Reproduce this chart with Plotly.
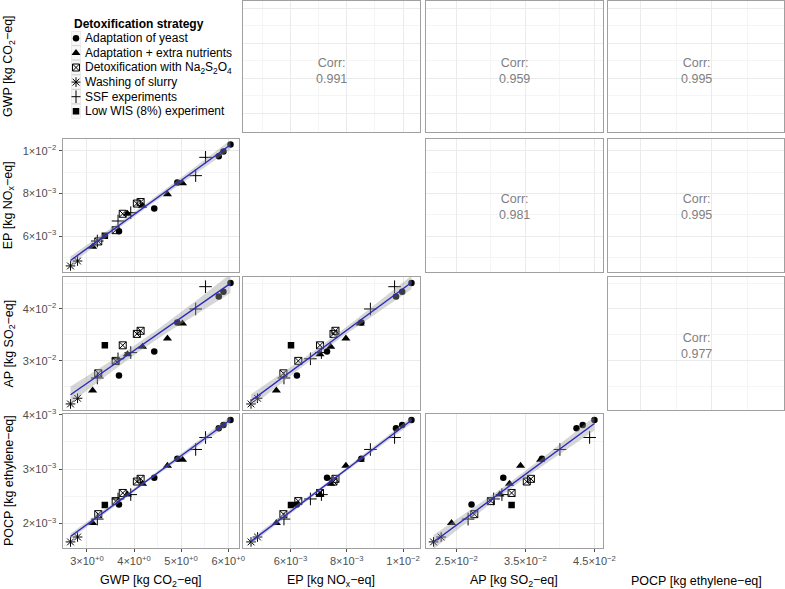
import numpy as np
import plotly.graph_objects as go

# ---------------- data ----------------
strategy = [
    "Washing of slurry", "Washing of slurry",
    "Adaptation + extra nutrients", "SSF experiments", "Detoxification with Na2S2O4",
    "Low WIS (8%) experiment", "Adaptation of yeast", "Detoxification with Na2S2O4",
    "SSF experiments", "Detoxification with Na2S2O4", "Adaptation + extra nutrients",
    "SSF experiments", "Detoxification with Na2S2O4", "Detoxification with Na2S2O4",
    "Adaptation + extra nutrients", "Adaptation of yeast", "Adaptation + extra nutrients",
    "Adaptation of yeast", "Adaptation + extra nutrients", "SSF experiments",
    "SSF experiments", "Adaptation of yeast", "Adaptation of yeast", "Adaptation of yeast",
]
gwp = [2.65, 2.80, 3.12, 3.22, 3.24, 3.38, 3.68, 3.61, 3.66, 3.76, 3.86, 3.93,
       4.06, 4.14, 4.18, 4.43, 4.71, 4.92, 5.03, 5.31, 5.52, 5.80, 5.90, 6.05]
ep = [4.60e-3, 4.83e-3, 5.50e-3, 5.77e-3, 5.75e-3, 6.02e-3, 6.23e-3, 6.28e-3,
      6.71e-3, 7.05e-3, 7.05e-3, 7.10e-3, 7.53e-3, 7.60e-3, 7.43e-3, 7.30e-3,
      7.97e-3, 8.52e-3, 8.48e-3, 8.84e-3, 9.70e-3, 9.75e-3, 9.97e-3, 10.30e-3]
ap = [0.0217, 0.0228, 0.0243, 0.0267, 0.0276, 0.0330, 0.0272, 0.0300,
      0.0304, 0.0330, 0.0313, 0.0316, 0.0352, 0.0358, 0.0327, 0.0318,
      0.0343, 0.0374, 0.0372, 0.0400, 0.0443, 0.0424, 0.0433, 0.0450]
pocp = [1.66e-3, 1.75e-3, 2.01e-3, 2.08e-3, 2.17e-3, 2.34e-3, 2.35e-3, 2.41e-3,
        2.45e-3, 2.56e-3, 2.53e-3, 2.53e-3, 2.77e-3, 2.82e-3, 2.73e-3, 2.84e-3,
        3.06e-3, 3.19e-3, 3.17e-3, 3.36e-3, 3.58e-3, 3.75e-3, 3.81e-3, 3.90e-3]

strategy_order = ["Adaptation of yeast", "Adaptation + extra nutrients",
                  "Detoxification with Na2S2O4", "Washing of slurry",
                  "SSF experiments", "Low WIS (8%) experiment"]
legend_labels = ["Adaptation of yeast", "Adaptation + extra nutrients",
                 "Detoxification with Na<sub>2</sub>S<sub>2</sub>O<sub>4</sub>",
                 "Washing of slurry", "SSF experiments", "Low WIS (8%) experiment"]
legend_title = "<b>Detoxification strategy</b>"

# correlation labels for upper panels (GWP-EP, GWP-AP, GWP-POCP, EP-AP, EP-POCP, AP-POCP)
corr_labels = ["0.991", "0.959", "0.995", "0.981", "0.995", "0.977"]

var_titles = ["GWP [kg CO<sub>2</sub>−eq]", "EP [kg NO<sub>x</sub>−eq]",
              "AP [kg SO<sub>2</sub>−eq]", "POCP [kg ethylene−eq]"]

gwp_ticks = [3, 4, 5, 6]
gwp_ticktext = ["3×10<sup>+0</sup>", "4×10<sup>+0</sup>", "5×10<sup>+0</sup>", "6×10<sup>+0</sup>"]
gwp_minor = [2.5, 3.5, 4.5, 5.5]
ep_ticks = [0.006, 0.008, 0.010]
ep_ticktext = ["6×10<sup>−3</sup>", "8×10<sup>−3</sup>", "1×10<sup>−2</sup>"]
ep_minor = [0.005, 0.007, 0.009]
ap_xticks = [0.025, 0.035, 0.045]
ap_xticktext = ["2.5×10<sup>−2</sup>", "3.5×10<sup>−2</sup>", "4.5×10<sup>−2</sup>"]
ap_xminor = [0.03, 0.04]
ap_yticks = [0.03, 0.04]
ap_yticktext = ["3×10<sup>−2</sup>", "4×10<sup>−2</sup>"]
ap_yminor = [0.025, 0.035, 0.045]
pocp_ticks = [0.002, 0.003, 0.004]
pocp_ticktext = ["2×10<sup>−3</sup>", "3×10<sup>−3</sup>", "4×10<sup>−3</sup>"]
pocp_minor = [0.0015, 0.0025, 0.0035]

# ---------------- styling ----------------
W, H = 785, 589
FONT = "Liberation Sans, Arial, Helvetica, sans-serif"
MAJ = "#ebebeb"
MIN = "#f5f5f5"
BORDER = "#a0a0a0"
TICKC = "#4d4d4d"
LINE_BLUE = "#2a2abd"
BAND = "rgba(153,153,153,0.4)"

col_px = [(62.5, 238.5), (243.0, 419.5), (425.5, 602.5), (608.0, 784.0)]
row_px = [(0.5, 131.5), (138.5, 272.0), (277.0, 410.0), (414.0, 548.0)]

markers = {
    "Adaptation of yeast": dict(symbol="circle", size=6.5, color="black", line=dict(width=0)),
    "Adaptation + extra nutrients": dict(symbol="triangle-up", size=8, color="black", line=dict(width=0)),
    "Detoxification with Na2S2O4": dict(symbol="square-x-open", size=7, color="black", line=dict(width=1, color="black")),
    "Washing of slurry": dict(symbol="asterisk-open", size=8, color="black", line=dict(width=1, color="black")),
    "SSF experiments": dict(symbol="cross-thin-open", size=9, color="black", line=dict(width=1, color="black")),
    "Low WIS (8%) experiment": dict(symbol="square", size=6.5, color="black", line=dict(width=0)),
}

data = [np.array(gwp), np.array(ep), np.array(ap), np.array(pocp)]
ranges = []
for v in data:
    span = v.max() - v.min()
    ranges.append([v.min() - 0.05 * span, v.max() + 0.05 * span])

xtick_info = [(gwp_ticks, gwp_ticktext, gwp_minor), (ep_ticks, ep_ticktext, ep_minor),
              (ap_xticks, ap_xticktext, ap_xminor), (pocp_ticks, pocp_ticktext, pocp_minor)]
ytick_info = [(gwp_ticks, gwp_ticktext, gwp_minor), (ep_ticks, ep_ticktext, ep_minor),
              (ap_yticks, ap_yticktext, ap_yminor), (pocp_ticks, pocp_ticktext, pocp_minor)]


def xdom(c):
    return [col_px[c][0] / W, col_px[c][1] / W]


def ydom(r):
    return [1 - row_px[r][1] / H, 1 - row_px[r][0] / H]


def fit_band(x, y, n_pts=80):
    n = len(x)
    xm = x.mean()
    sxx = ((x - xm) ** 2).sum()
    b = ((x - xm) * (y - y.mean())).sum() / sxx
    a = y.mean() - b * xm
    resid = y - (a + b * x)
    s = np.sqrt((resid ** 2).sum() / (n - 2))
    xs = np.linspace(x.min(), x.max(), n_pts)
    yh = a + b * xs
    se = s * np.sqrt(1.0 / n + (xs - xm) ** 2 / sxx)
    t = 2.074  # t quantile (0.975) for df = 22
    return xs, yh, yh - t * se, yh + t * se


fig = go.Figure()
layout = dict(
    width=W, height=H, autosize=False, margin=dict(l=0, r=0, t=0, b=0, pad=0, autoexpand=False),
    paper_bgcolor="white", plot_bgcolor="white", showlegend=False,
    font=dict(family=FONT, size=11, color=TICKC),
)
annotations = []
shapes = []

strat_arr = np.array(strategy)
corr_i = 0
for r in range(4):
    for c in range(4):
        if r == c:
            continue
        idx = r * 4 + c + 1
        xname = "xaxis" if idx == 1 else f"xaxis{idx}"
        yname = "yaxis" if idx == 1 else f"yaxis{idx}"
        xref = "x" if idx == 1 else f"x{idx}"
        yref = "y" if idx == 1 else f"y{idx}"
        xt, xtt, xm = xtick_info[c]
        yt, ytt, ym = ytick_info[r]
        show_x = (r == 3)
        show_y = (c == 0)
        layout[xname] = dict(
            domain=xdom(c), range=ranges[c], anchor=yref, automargin=False,
            tickmode="array", tickvals=xt, ticktext=xtt,
            showgrid=True, gridcolor=MAJ, gridwidth=1,
            minor=dict(tickvals=xm, showgrid=True, gridcolor=MIN, gridwidth=0.6, ticks=""),
            showline=True, mirror=True, linecolor=BORDER, linewidth=1, zeroline=False,
            ticks="outside" if show_x else "", ticklen=3, tickcolor=TICKC,
            showticklabels=show_x, tickfont=dict(size=11, color=TICKC, family=FONT),
        )
        layout[yname] = dict(
            domain=ydom(r), range=ranges[r], anchor=xref, automargin=False,
            tickmode="array", tickvals=yt, ticktext=ytt,
            showgrid=True, gridcolor=MAJ, gridwidth=1,
            minor=dict(tickvals=ym, showgrid=True, gridcolor=MIN, gridwidth=0.6, ticks=""),
            showline=True, mirror=True, linecolor=BORDER, linewidth=1, zeroline=False,
            ticks="outside" if show_y else "", ticklen=3, tickcolor=TICKC,
            showticklabels=show_y, tickfont=dict(size=11, color=TICKC, family=FONT),
        )
        if r > c:
            xv, yv = data[c], data[r]
            for s in strategy_order:
                m = strat_arr == s
                if not m.any():
                    continue
                fig.add_trace(go.Scatter(x=xv[m], y=yv[m], mode="markers", marker=markers[s],
                                         xaxis=xref, yaxis=yref, hoverinfo="skip"))
            xs, yh, lo, hi = fit_band(xv, yv)
            fig.add_trace(go.Scatter(x=np.concatenate([xs, xs[::-1]]), y=np.concatenate([hi, lo[::-1]]),
                                     mode="lines", fill="toself", fillcolor=BAND, line=dict(width=0),
                                     xaxis=xref, yaxis=yref, hoverinfo="skip"))
            fig.add_trace(go.Scatter(x=xs, y=yh, mode="lines", line=dict(color=LINE_BLUE, width=1.4),
                                     xaxis=xref, yaxis=yref, hoverinfo="skip"))
        else:
            # empty trace so the panel (grid + border) is drawn
            fig.add_trace(go.Scatter(x=[], y=[], mode="markers", xaxis=xref, yaxis=yref,
                                     hoverinfo="skip"))
            cy = (row_px[r][0] + row_px[r][1]) / 2 + (5 if r == 0 else 2)
            cx = (col_px[c][0] + col_px[c][1]) / 2
            annotations.append(dict(
                x=cx / W, y=1 - cy / H, xref="paper", yref="paper",
                text=f"Corr:<br>{corr_labels[corr_i]}", showarrow=False,
                xanchor="center", yanchor="middle",
                font=dict(family=FONT, size=12.5, color="#7f7f7f"),
            ))
            corr_i += 1

# ---------------- legend (drawn inside the empty top-left cell) ----------------
key_x = (71.5, 80.5)
key_top, key_h = 31.0, 14.6
n_items = len(strategy_order)
layout["xaxis"] = dict(domain=[key_x[0] / W, key_x[1] / W], range=[0, 1], visible=False,
                       anchor="y", fixedrange=True, automargin=False)
layout["yaxis"] = dict(domain=[1 - (key_top + n_items * key_h) / H, 1 - key_top / H],
                       range=[0, n_items], visible=False, anchor="x", fixedrange=True,
                       automargin=False)
for i, s in enumerate(strategy_order):
    k = n_items - 1 - i
    shapes.append(dict(type="rect", xref="x", yref="y", x0=0, x1=1, y0=k, y1=k + 1,
                       fillcolor="#f7f7f7", line=dict(color="#cfcfcf", width=0.8), layer="below"))
    fig.add_trace(go.Scatter(x=[0.5], y=[k + 0.5], mode="markers", marker=markers[s],
                             xaxis="x", yaxis="y", hoverinfo="skip"))
    annotations.append(dict(
        x=82.5 / W, y=1 - (key_top + (i + 0.5) * key_h) / H, xref="paper", yref="paper",
        text=legend_labels[i], showarrow=False, xanchor="left", yanchor="middle",
        font=dict(family=FONT, size=12, color="black"),
    ))
annotations.append(dict(
    x=71.5 / W, y=1 - 24 / H, xref="paper", yref="paper", text=legend_title,
    showarrow=False, xanchor="left", yanchor="middle",
    font=dict(family=FONT, size=12, color="black"),
))

# ---------------- axis titles ----------------
for c in range(4):
    cx = (col_px[c][0] + col_px[c][1]) / 2
    annotations.append(dict(
        x=cx / W, y=1 - 581 / H, xref="paper", yref="paper", text=var_titles[c],
        showarrow=False, xanchor="center", yanchor="middle",
        font=dict(family=FONT, size=12.5, color="black"),
    ))
for r in range(4):
    cy = (row_px[r][0] + row_px[r][1]) / 2
    annotations.append(dict(
        x=9 / W, y=1 - cy / H, xref="paper", yref="paper", text=var_titles[r],
        showarrow=False, xanchor="center", yanchor="middle", textangle=-90,
        font=dict(family=FONT, size=12.5, color="black"),
    ))

layout["annotations"] = annotations
layout["shapes"] = shapes
fig.update_layout(**layout)

# place the graph at the page's top-left corner (no body margin)
post = ("document.documentElement.style.margin='0';document.documentElement.style.padding='0';"
        "document.body.style.margin='0';document.body.style.padding='0';"
        "document.body.style.overflow='hidden';"
        "var gd=document.getElementById('{plot_id}');"
        "gd.style.position='absolute';gd.style.left='0px';gd.style.top='0px';")
fig.write_html("out.html", post_script=post,
               config={"displayModeBar": False, "responsive": False})
